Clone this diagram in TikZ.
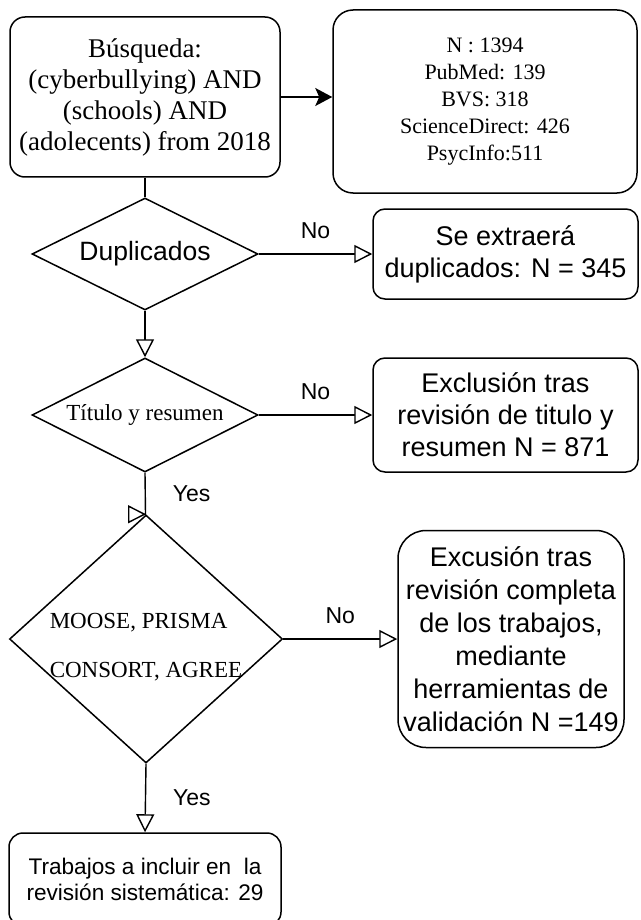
\documentclass[tikz,border=0pt]{standalone}
\usepackage{fontspec}
\setmainfont{Liberation Serif}
\setsansfont{Liberation Sans}
\usetikzlibrary{shapes.geometric,arrows.meta}

\begin{document}
\begin{tikzpicture}[x=1pt,y=-1pt,
	caja/.style={draw,line width=1.5pt,rectangle,rounded corners=#1,inner sep=0pt,align=center},
	caja/.default=14pt,
	rombo/.style={draw,line width=1.5pt,diamond,inner sep=0pt,align=center},
	flecha/.style={line width=1.4pt,-{Triangle[length=18pt,width=18pt,fill=white]}},
	etiq/.style={font=\sffamily\fontsize{23}{27}\selectfont,inner sep=0pt}]
	\useasboundingbox (0,0) rectangle (640,920);
	\clip (0,0) rectangle (640,920);
	\node[caja=15pt,minimum width=270pt,minimum height=160pt,font=\fontsize{27}{31}\selectfont] (busq) at (145,97) {Búsqueda:\\(cyberbullying) AND\\(schools) AND\\(adolecents) from 2018};
	\node[caja=20pt,minimum width=304pt,minimum height=183pt,font=\fontsize{22}{27}\selectfont] (total) at (485,101.5) {N : 1394\\PubMed: 139\\BVS: 318\\ScienceDirect: 426\\PsycInfo:511};
	\node[rombo,aspect=2,minimum width=226pt,minimum height=112pt,font=\sffamily\fontsize{26.5}{30}\selectfont] (dupl) at (145,254) {Duplicados};
	\node[caja=12pt,minimum width=265pt,minimum height=90pt,font=\sffamily\fontsize{27}{32}\selectfont] (extr) at (505.5,254) {Se extraerá\\duplicados: N = 345};
	\node[rombo,aspect=2,minimum width=226pt,minimum height=114pt,font=\fontsize{23}{27}\selectfont] (titulo) at (145,415) {Título y resumen};
	\node[caja=12pt,minimum width=265pt,minimum height=114pt,font=\sffamily\fontsize{27}{32}\selectfont] (excl) at (505.5,415) {Exclusión tras\\revisión de titulo y\\resumen N = 871};
	\node[rombo,minimum width=273pt,minimum height=248pt,label={[font=\fontsize{23}{49}\selectfont,align=left,yshift=-8.5pt]center:{MOOSE, PRISMA\\CONSORT, AGREE}}] (guias) at (146,639) {};
	\node[caja=28pt,minimum width=226pt,minimum height=217pt,font=\sffamily\fontsize{27}{33}\selectfont] (herr) at (511,639) {Excusión tras\\revisión completa\\de los trabajos,\\mediante\\herramientas de\\validación N =149};
	\node[caja=14pt,minimum width=272pt,minimum height=93pt,font=\sffamily\fontsize{22.6}{26}\selectfont] (final) at (145,879.5) {Trabajos a incluir en \ la\\revisión sistemática: 29};
	\draw[line width=1.4pt,-{Stealth[length=17pt,width=18pt,inset=4pt]}] (busq.east) -- (busq.east -| total.west);
	\draw[line width=1.4pt] (busq.south) -- (dupl.north);
	\draw[flecha] (dupl.east) -- (extr.west) node[etiq,midway,above=15pt] {No};
	\draw[flecha] (dupl.south) -- (titulo.north);
	\draw[flecha] (titulo.east) -- (excl.west) node[etiq,midway,above=15pt] {No};
	\draw[flecha] (titulo.south) -- node[etiq,right=27pt] {Yes} ([xshift=-0.5pt]guias.north) -- (guias.north);
	\draw[flecha] (guias.east) -- (herr.west) node[etiq,midway,above=15pt] {No};
	\draw[flecha] (guias.south) -- (final.north) node[etiq,midway,right=27pt] {Yes};
\end{tikzpicture}
\end{document}
